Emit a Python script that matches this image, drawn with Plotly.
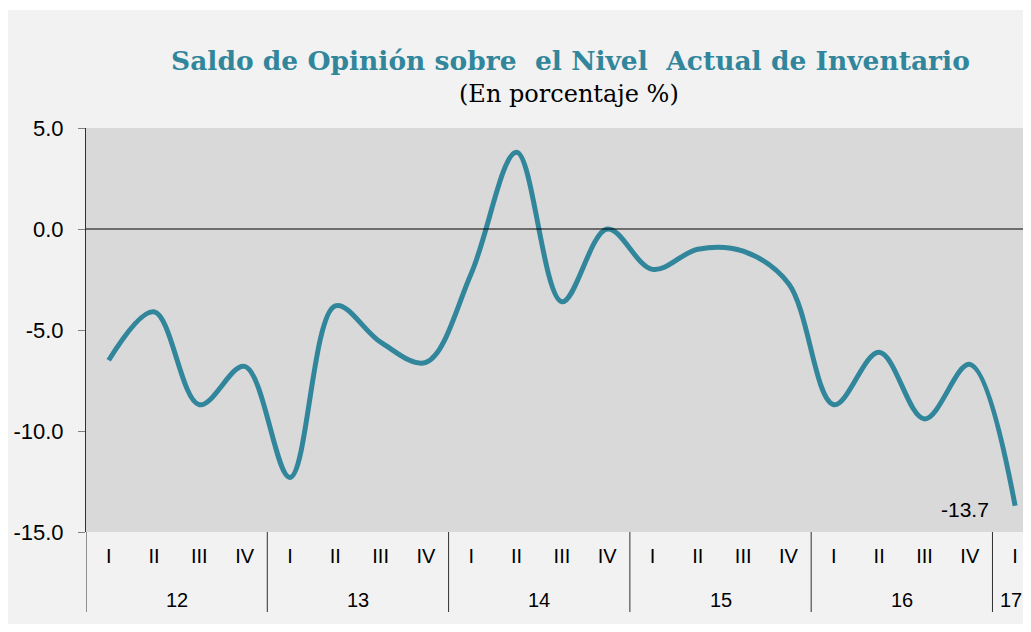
import plotly.graph_objects as go

quarters = ["I", "II", "III", "IV"] * 5 + ["I"]
years = ["12", "13", "14", "15", "16", "17"]
year_sizes = [4, 4, 4, 4, 4, 1]
values = [-6.5, -4.1, -8.7, -6.8,
          -12.3, -3.8, -5.6, -6.6,
          -2.2, 3.8, -3.6, 0.0,
          -2.0, -1.0, -1.1, -2.7,
          -8.7, -6.1, -9.4, -6.7,
          -13.7]
title = "Saldo de Opinión sobre  el Nivel  Actual de Inventario"
subtitle = "(En porcentaje %)"
yticks = [5, 0, -5, -10, -15]

x = list(range(len(values)))

# page is offset by the 8px body margin
OFF = 8
W, H = 1031 - OFF, 632 - 2 * OFF
L, T = 86 - OFF, 128 - OFF
B = H - (532 - OFF)
PW = W - L
PH = H - T - B


def px_x(p):
    return (p - OFF - L) / PW


def px_y(p):
    return (H - B - (p - OFF)) / PH


fig = go.Figure()
fig.add_trace(go.Scatter(
    x=x, y=values, mode="lines",
    line=dict(color="#31869b", width=5, shape="spline", smoothing=1.0),
    hoverinfo="skip", showlegend=False,
))

shapes = [
    dict(type="rect", xref="paper", yref="paper", layer="below",
         x0=px_x(OFF), x1=px_x(1031), y0=px_y(OFF), y1=px_y(10),
         fillcolor="white", line=dict(width=0)),
    dict(type="line", xref="paper", yref="y", x0=0, x1=1, y0=0, y1=0,
         line=dict(color="black", width=1)),
]
annotations = [
    dict(text="<b>" + title + "</b>", xref="paper", yref="paper",
         x=px_x(570), y=px_y(60), showarrow=False, yanchor="middle",
         font=dict(family="DejaVu Serif", size=26.5, color="#31869b")),
    dict(text=subtitle, xref="paper", yref="paper",
         x=px_x(569), y=px_y(94), showarrow=False, yanchor="middle",
         font=dict(family="DejaVu Serif", size=24, color="black")),
    dict(text=f"{values[-1]:.1f}", xref="x", yref="y",
         x=x[-1], y=values[-1], xanchor="right", yanchor="middle",
         xshift=-24, yshift=-4, showarrow=False,
         font=dict(family="Liberation Sans", size=21, color="black")),
]

start = 0
for i, (yr, n) in enumerate(zip(years, year_sizes)):
    shapes.append(dict(type="line", xref="x", yref="paper",
                       x0=start - 0.5, x1=start - 0.5,
                       y0=0, y1=px_y(612),
                       line=dict(color="#303030", width=1)))
    annotations.append(dict(text=yr, xref="x", yref="paper",
                            x=start + (n - 1) / 2, y=px_y(600),
                            showarrow=False, yanchor="middle",
                            xshift=-4 if i == len(years) - 1 else 0,
                            font=dict(family="Liberation Sans", size=20, color="black")))
    start += n

fig.update_layout(
    width=W, height=H,
    margin=dict(l=L, r=0, t=T, b=B),
    paper_bgcolor="#f2f2f2",
    plot_bgcolor="#d9d9d9",
    shapes=shapes,
    annotations=annotations,
    xaxis=dict(range=[-0.5, 20.35], tickvals=x, ticktext=quarters,
               showgrid=False, zeroline=False, showline=False, ticks="",
               ticklabelstandoff=10,
               tickfont=dict(family="Liberation Sans", size=20, color="black")),
    yaxis=dict(range=[-15, 5], tickvals=yticks,
               ticktext=[f"{v:.1f}" for v in yticks],
               showgrid=False, zeroline=False,
               showline=True, linecolor="#303030", linewidth=1,
               ticks="outside", ticklen=7, tickcolor="#808080",
               ticklabelstandoff=10,
               tickfont=dict(family="Liberation Sans", size=22, color="black")),
)

fig.write_html("out.html")
